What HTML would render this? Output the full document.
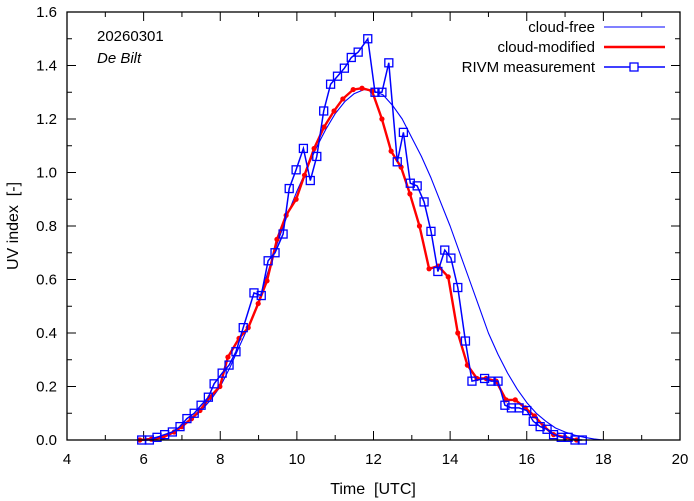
<!DOCTYPE html>
<html><head><meta charset="utf-8"><style>
body{margin:0;background:#fff}
svg{display:block;font-family:"Liberation Sans",sans-serif}
text{white-space:pre}
</style></head><body>
<svg id="c" width="694" height="501"></svg>
<script>
const xTicks=[4,6,8,10,12,14,16,18,20];
const yTicks=[0,0.2,0.4,0.6,0.8,1.0,1.2,1.4,1.6];
const clearT=[5.8,6,6.25,6.5,6.75,7,7.25,7.5,7.75,8,8.25,8.5,8.75,9,9.25,9.5,9.75,10,10.25,10.5,10.75,11,11.25,11.5,11.75,12,12.25,12.5,12.75,13,13.25,13.5,13.75,14,14.25,14.5,14.75,15,15.25,15.5,15.75,16,16.25,16.5,16.75,17,17.25,17.5,17.75,18];
const clearV=[0,0.003,0.008,0.016,0.03,0.05,0.077,0.11,0.15,0.2,0.27,0.35,0.43,0.52,0.63,0.74,0.84,0.93,1.01,1.09,1.16,1.22,1.265,1.295,1.31,1.305,1.29,1.25,1.20,1.13,1.06,0.98,0.89,0.80,0.70,0.60,0.50,0.40,0.32,0.25,0.19,0.14,0.10,0.07,0.045,0.03,0.018,0.01,0.004,0];
const modT=[5.9,6.2,6.5,6.8,7.0,7.25,7.47,7.73,7.99,8.2,8.49,8.73,8.99,9.22,9.48,9.72,9.98,10.2,10.45,10.71,10.97,11.2,11.47,11.7,11.96,12.22,12.46,12.72,12.95,13.2,13.45,13.69,13.95,14.2,14.45,14.7,14.94,15.2,15.46,15.7,15.96,16.2,16.45,16.7,17.0,17.3];
const modV=[0,0.003,0.01,0.03,0.05,0.08,0.11,0.16,0.20,0.31,0.38,0.42,0.51,0.595,0.75,0.84,0.90,0.99,1.09,1.17,1.23,1.275,1.31,1.315,1.305,1.20,1.08,1.02,0.92,0.80,0.64,0.65,0.61,0.40,0.28,0.23,0.23,0.22,0.15,0.15,0.12,0.09,0.05,0.02,0.01,0];
const rivT=[5.95,6.15,6.35,6.55,6.75,6.95,7.13,7.32,7.5,7.69,7.84,8.05,8.23,8.41,8.6,8.88,9.07,9.25,9.43,9.64,9.8,9.98,10.17,10.35,10.52,10.7,10.88,11.06,11.24,11.42,11.6,11.85,12.04,12.22,12.4,12.62,12.78,12.96,13.14,13.32,13.5,13.68,13.86,14.02,14.2,14.4,14.57,14.9,15.07,15.25,15.43,15.6,15.8,16.0,16.17,16.35,16.53,16.7,16.9,17.08,17.26,17.45];
const rivV=[0,0,0.01,0.02,0.03,0.05,0.08,0.10,0.13,0.16,0.21,0.25,0.28,0.33,0.42,0.55,0.54,0.67,0.70,0.77,0.94,1.01,1.09,0.97,1.06,1.23,1.33,1.36,1.39,1.43,1.45,1.50,1.30,1.30,1.41,1.04,1.15,0.96,0.95,0.89,0.78,0.63,0.71,0.68,0.57,0.37,0.22,0.23,0.22,0.22,0.13,0.12,0.12,0.11,0.07,0.05,0.04,0.02,0.01,0.01,0,0];
const X0=67,X1=680,Y0=440,Y1=12;
const sx=t=>X0+(t-4)/16*(X1-X0), sy=v=>Y0-v/1.6*(Y0-Y1);
const svg=document.getElementById('c'),NS='http://www.w3.org/2000/svg';
function mk(tag,at,txt){const e=document.createElementNS(NS,tag);for(const k in at)e.setAttribute(k,at[k]);if(txt!=null)e.textContent=txt;svg.appendChild(e);return e;}
for(let t=4;t<=20;t+=1){const m=(t%2===0)?9:5;
 mk('line',{x1:sx(t),x2:sx(t),y1:Y0,y2:Y0-m,stroke:'#000'});
 mk('line',{x1:sx(t),x2:sx(t),y1:Y1,y2:Y1+m,stroke:'#000'});}
for(let i=0;i<=16;i++){const v=i*0.1,m=(i%2===0)?9:5;
 mk('line',{x1:X0,x2:X0+m,y1:sy(v),y2:sy(v),stroke:'#000'});
 mk('line',{x1:X1,x2:X1-m,y1:sy(v),y2:sy(v),stroke:'#000'});}
xTicks.forEach(t=>{const e=mk('text',{x:sx(t),y:464,'text-anchor':'middle','font-size':15},String(t));

});
yTicks.forEach(v=>{const e=mk('text',{x:57,y:sy(v)+5,'text-anchor':'end','font-size':15},v.toFixed(1));

});
let e=mk('text',{x:373,y:494,'text-anchor':'middle','font-size':16},'Time  [UTC]');


e=mk('text',{x:18,y:226,'text-anchor':'middle','font-size':16,transform:'rotate(-90 18 226)'},'UV index  [-]');


e=mk('text',{x:97,y:41,'font-size':15},'20260301');


e=mk('text',{x:97,y:63,'font-size':15,'font-style':'italic'},'De Bilt');


const pts=(T,V)=>T.map((t,i)=>sx(t).toFixed(1)+','+sy(V[i]).toFixed(1)).join(' ');
e=mk('polyline',{points:pts(clearT,clearV),fill:'none',stroke:'#0000ff','stroke-width':1.1,'stroke-linejoin':'round'});


e=mk('polyline',{points:pts(modT,modV),fill:'none',stroke:'#ff0000','stroke-width':2.4});


modT.forEach((t,i)=>{const c=mk('circle',{cx:sx(t),cy:sy(modV[i]),r:2.6,fill:'#ff0000'});

});
e=mk('polyline',{points:pts(rivT,rivV),fill:'none',stroke:'#0000ff','stroke-width':1.5});


rivT.forEach((t,i)=>{const r=mk('rect',{x:sx(t)-4,y:sy(rivV[i])-4,width:8,height:8,fill:'none',stroke:'#0000ff','stroke-width':1.3});

});
const L=[['cloud-free','#0000ff',1.1,false],['cloud-modified','#ff0000',2.4,false],['RIVM measurement','#0000ff',1.5,true]];
L.forEach((l,i)=>{const y=27+i*20;
 const t=mk('text',{x:595,y:y+5,'text-anchor':'end','font-size':15},l[0]);
 
 
 const ln=mk('line',{x1:604,x2:665,y1:y,y2:y,stroke:l[1],'stroke-width':l[2]});
 
 
 if(l[3]){const r=mk('rect',{x:630,y:y-4,width:8,height:8,fill:'#fff',stroke:l[1],'stroke-width':1.3});
 
 }});
e=mk('rect',{x:X0,y:Y1,width:X1-X0,height:Y0-Y1,fill:'none',stroke:'#000','stroke-width':1.3});


</script>
</body></html>
